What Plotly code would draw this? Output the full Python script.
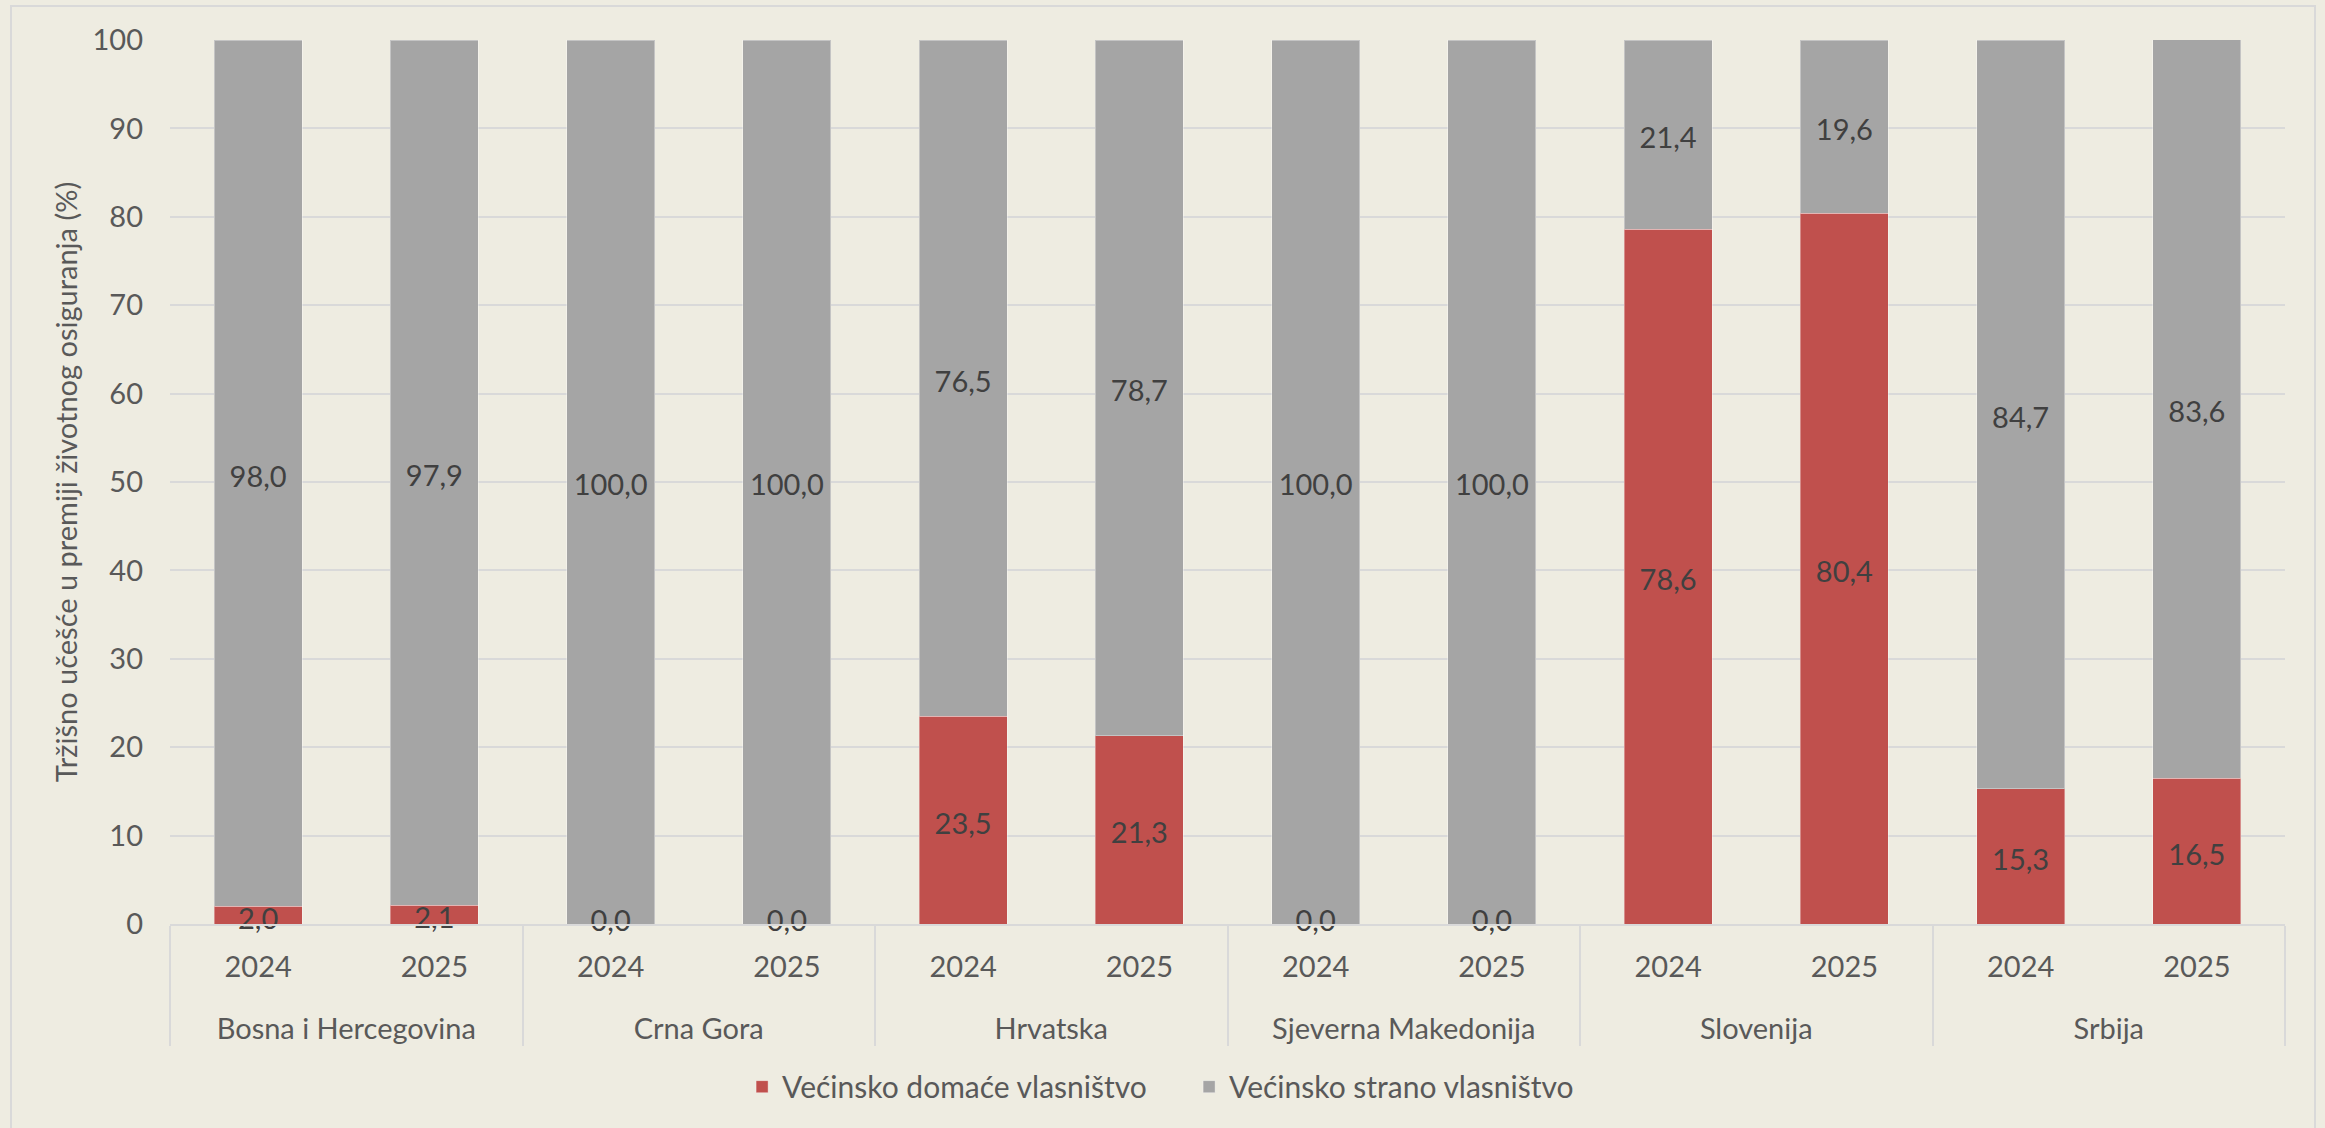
import plotly.graph_objects as go

countries = ["Bosna i Hercegovina", "Bosna i Hercegovina", "Crna Gora", "Crna Gora",
             "Hrvatska", "Hrvatska", "Sjeverna Makedonija", "Sjeverna Makedonija",
             "Slovenija", "Slovenija", "Srbija", "Srbija"]
years = ["2024", "2025"] * 6
domestic = [2.0, 2.1, 0.0, 0.0, 23.5, 21.3, 0.0, 0.0, 78.6, 80.4, 15.3, 16.5]
foreign = [98.0, 97.9, 100.0, 100.0, 76.5, 78.7, 100.0, 100.0, 21.4, 19.6, 84.7, 83.6]
y_ticks = [0, 10, 20, 30, 40, 50, 60, 70, 80, 90, 100]

name_dom = "Većinsko domaće vlasništvo"
name_for = "Većinsko strano vlasništvo"
y_title = "Tržišno učešće u premiji životnog osiguranja (%)"

RED = "#C0504D"
GRAY = "#A5A5A5"
BG = "#EEECE1"
TXT = "#595959"
LBL = "#404040"
FONT = "Lato, Carlito, Calibri, sans-serif"
FS = 29
LABEL_NUDGE = -0.7  # small visual nudge of label baseline (font metric compensation)

def fmt(v):
    return f"{v:.1f}".replace(".", ",")

# year labels padded with an invisible second line to space the two label rows
year_lbl = [y + "<br><span style='font-size:44px'>\u00a0</span>" for y in years]
x = [countries, year_lbl]

fig = go.Figure()
fig.add_trace(go.Bar(x=x, y=domestic, name=name_dom,
                     marker=dict(color=RED, line=dict(width=1, color="rgba(255,255,255,0.35)"))))
fig.add_trace(go.Bar(x=x, y=foreign, name=name_for,
                     marker=dict(color=GRAY, line=dict(width=1, color="rgba(255,255,255,0.35)"))))

fig.add_trace(go.Scatter(x=x, y=[max(d / 2 + LABEL_NUDGE, 0) for d in domestic], mode="text",
                         text=[fmt(v) for v in domestic], textposition="middle center",
                         textfont=dict(family=FONT, size=FS, color=LBL),
                         showlegend=False, hoverinfo="skip", cliponaxis=False))
fig.add_trace(go.Scatter(x=x, y=[d + f / 2 + LABEL_NUDGE for d, f in zip(domestic, foreign)], mode="text",
                         text=[fmt(v) for v in foreign], textposition="middle center",
                         textfont=dict(family=FONT, size=FS, color=LBL),
                         showlegend=False, hoverinfo="skip", cliponaxis=False))

fig.update_layout(
    width=2325, height=1128,
    barmode="stack", bargap=0.5,
    paper_bgcolor=BG, plot_bgcolor=BG,
    margin=dict(l=170, r=40, t=40, b=204, autoexpand=False),
    font=dict(family=FONT, size=FS, color=TXT),
    legend=dict(orientation="h", x=0.2705, xanchor="left", y=-0.184, yanchor="middle",
                traceorder="normal", font=dict(family=FONT, size=30, color=TXT),
                itemwidth=30, entrywidth=402, bgcolor="rgba(0,0,0,0)"),
    showlegend=True,
)
fig.update_yaxes(range=[0, 100], tickvals=y_ticks, ticks="", showline=False,
                 gridcolor="#D9D9D9", gridwidth=2, zeroline=False,
                 ticklabelstandoff=26,
                 title=dict(text=y_title, standoff=6, font=dict(family=FONT, size=FS, color=TXT)),
                 tickfont=dict(family=FONT, size=FS, color=TXT))
fig.update_xaxes(type="multicategory", showline=True, linecolor="#D9D9D9", linewidth=2,
                 showdividers=True, dividercolor="#D9D9D9", dividerwidth=2,
                 ticks="", ticklabelstandoff=16,
                 tickfont=dict(family=FONT, size=FS, color=TXT),
                 range=[-0.5, 11.5], showgrid=False)

fig.add_shape(type="rect", xref="paper", yref="paper",
              x0=(11 - 170) / 2115, x1=(2315 - 170) / 2115,
              y0=-0.235, y1=(924 - 6) / 884,
              line=dict(color="#D9D9D9", width=2), fillcolor="rgba(0,0,0,0)", layer="below")

fig.write_html("out.html", config={"displayModeBar": False},
               post_script="document.body.style.margin='0';document.body.style.background='%s';" % BG)
